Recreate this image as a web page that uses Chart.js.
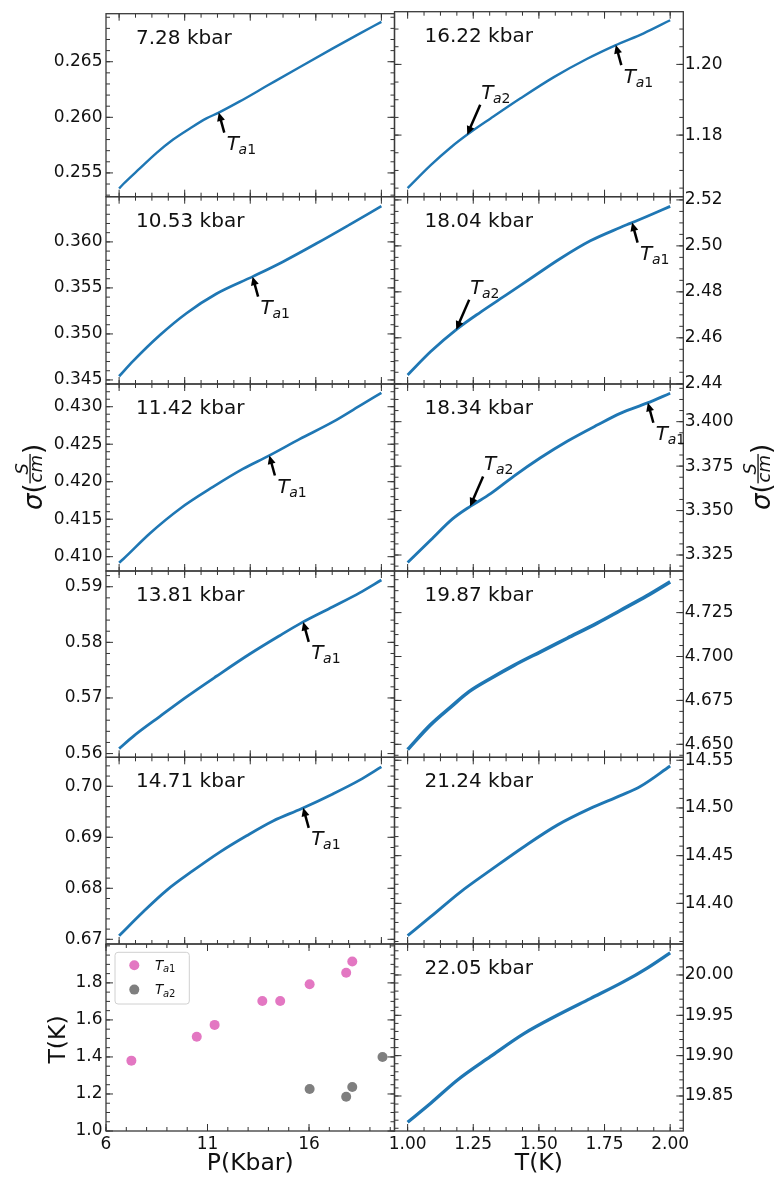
<!DOCTYPE html>
<html><head><meta charset="utf-8">
<script src="https://cdn.jsdelivr.net/npm/chart.js@4.4.1/dist/chart.umd.min.js"></script>
<style>
html,body{margin:0;padding:0;background:#fff;}
#wrap{position:relative;width:778px;height:1178px;overflow:hidden;background:#fff;}
#wrap canvas{position:absolute;left:0;top:0;}
</style></head><body><div id="wrap"></div>
<script>
// ---------------- data ----------------
const T_TICKS = [1.00, 1.25, 1.50, 1.75, 2.00];

const T_728 = [1.000, 1.016, 1.079, 1.143, 1.206, 1.270, 1.333, 1.378, 1.460, 1.562, 1.688, 1.815, 1.917, 2.000];
const S_728 = [0.2536, 0.2540, 0.2554, 0.2568, 0.2580, 0.2590, 0.2599, 0.2604, 0.26143, 0.26281, 0.26451, 0.26620, 0.26753, 0.26858];
const Y_728 = [0.255, 0.260, 0.265];

const T_1053 = [1.000, 1.054, 1.156, 1.257, 1.371, 1.511, 1.625, 1.752, 1.879, 2.000];
const S_1053 = [0.3454, 0.34707, 0.34988, 0.35225, 0.35436, 0.35625, 0.35785, 0.35982, 0.36188, 0.36388];
const Y_1053 = [0.345, 0.350, 0.355, 0.360];

const T_1142 = [1.000, 1.016, 1.117, 1.232, 1.358, 1.472, 1.568, 1.688, 1.815, 1.917, 2.000];
const S_1142 = [0.4092, 0.4097, 0.4131, 0.4164, 0.4193, 0.4217, 0.4234, 0.42567, 0.42797, 0.43011, 0.43184];
const Y_1142 = [0.410, 0.415, 0.420, 0.425, 0.430];

const T_1381 = [1.000, 1.054, 1.156, 1.257, 1.371, 1.498, 1.612, 1.695, 1.815, 1.917, 2.000];
const S_1381 = [0.5609, 0.5631, 0.5667, 0.5702, 0.5739, 0.5779, 0.5812, 0.5835, 0.5864, 0.5889, 0.5912];
const Y_1381 = [0.56, 0.57, 0.58, 0.59];

const T_1471 = [1.000, 1.092, 1.181, 1.283, 1.384, 1.486, 1.587, 1.695, 1.815, 1.917, 2.000];
const S_1471 = [0.6707, 0.6754, 0.6796, 0.6835, 0.6871, 0.6903, 0.6932, 0.6956, 0.6985, 0.7012, 0.7038];
const Y_1471 = [0.67, 0.68, 0.69, 0.70];

const T_1622 = [1.000, 1.088, 1.164, 1.234, 1.316, 1.430, 1.557, 1.684, 1.791, 1.899, 2.000];
const S_1622 = [1.1650, 1.1715, 1.1765, 1.1805, 1.1847, 1.1904, 1.1964, 1.2016, 1.2054, 1.2088, 1.2125];
const Y_1622 = [1.18, 1.20];

const T_1804 = [1.000, 1.088, 1.190, 1.278, 1.380, 1.481, 1.582, 1.696, 1.810, 1.848, 1.911, 2.000];
const S_1804 = [2.4438, 2.4540, 2.4640, 2.4712, 2.4790, 2.4868, 2.4945, 2.5022, 2.5080, 2.5098, 2.5128, 2.5172];
const Y_1804 = [2.44, 2.46, 2.48, 2.50, 2.52];

const T_1834 = [1.000, 1.088, 1.171, 1.240, 1.316, 1.405, 1.506, 1.608, 1.722, 1.810, 1.911, 2.000];
const S_1834 = [3.3208, 3.3334, 3.3453, 3.3525, 3.3595, 3.3694, 3.3797, 3.3890, 3.3981, 3.4047, 3.4104, 3.4160];
const Y_1834 = [3.325, 3.350, 3.375, 3.400];

const T_1987 = [1.000, 1.088, 1.164, 1.234, 1.316, 1.405, 1.506, 1.608, 1.722, 1.810, 1.911, 2.000];
const S_1987 = [4.6470, 4.6612, 4.6712, 4.6800, 4.6875, 4.6950, 4.7027, 4.7104, 4.7190, 4.7262, 4.7345, 4.7425];
const Y_1987 = [4.650, 4.675, 4.700, 4.725];

const T_2124 = [1.000, 1.088, 1.202, 1.316, 1.443, 1.570, 1.696, 1.810, 1.886, 2.000];
const S_2124 = [14.3663, 14.3860, 14.4121, 14.4348, 14.4594, 14.4820, 14.4995, 14.5130, 14.5225, 14.5440];
const Y_2124 = [14.40, 14.45, 14.50, 14.55];

const T_2205 = [1.000, 1.088, 1.190, 1.316, 1.443, 1.570, 1.696, 1.823, 1.911, 2.000];
const S_2205 = [19.8175, 19.8410, 19.8698, 19.8990, 19.9273, 19.9500, 19.9707, 19.9917, 20.0083, 20.0275];
const Y_2205 = [19.85, 19.90, 19.95, 20.00];

// transition temperatures vs pressure
const TA1_P = [7.25, 10.47, 11.35, 13.70, 14.58, 16.03, 17.83, 18.13];
const TA1_T = [1.38, 1.509, 1.573, 1.702, 1.702, 1.793, 1.855, 1.915];
const TA2_P = [16.03, 17.83, 18.13, 19.62];
const TA2_T = [1.227, 1.185, 1.238, 1.40];
const P_TICKS = [6, 11, 16];
const TK_TICKS = [1.0, 1.2, 1.4, 1.6, 1.8];

// ---------------- layout / style ----------------
const W = 778, H = 1178;
const ROWS = [9.3, 196.7, 384, 571, 757.3, 944, 1131];
const COLS = [106, 394.5, 683.3];
const FONT = '"DejaVu Sans", "Liberation Sans", sans-serif';
const BLUE = '#1f77b4', PINK = '#e377c2', GRAY = '#7f7f7f';
const INK = '#111';
Chart.defaults.font.family = FONT;

function curve(T, S, lw) {
  return [{ data: T.map((t, i) => ({ x: t, y: S[i] })), showLine: true, borderColor: BLUE,
    borderWidth: lw, pointRadius: 0, cubicInterpolationMode: 'monotone', fill: false }];
}
function interp(T, S, t) {
  for (let i = 0; i < T.length - 1; i++) {
    if (t >= T[i] && t <= T[i + 1]) return S[i] + (S[i + 1] - S[i]) * (t - T[i]) / (T[i + 1] - T[i]);
  }
  return t < T[0] ? S[0] : S[S.length - 1];
}
function minorVals(min, max, step) {
  const out = []; const k0 = Math.ceil(min / step - 1e-9), k1 = Math.floor(max / step + 1e-9);
  for (let k = k0; k <= k1; k++) out.push(k * step);
  return out;
}

const TX = { xmin: 0.95, xmax: 2.05, xt: T_TICKS, xdec: 2, xminor: 0.0625 };
const panels = [
  Object.assign({ col: 0, row: 0, label: '7.28 kbar', T: T_728, S: S_728, ymin: 0.25286, ymax: 0.26932, yt: Y_728, ydec: 3, yminor: 0.001, lw: 2.4, ann: [['1', TA1_T[0]]] }, TX),
  Object.assign({ col: 0, row: 1, label: '10.53 kbar', T: T_1053, S: S_1053, ymin: 0.34456, ymax: 0.36491, yt: Y_1053, ydec: 3, yminor: 0.001, lw: 2.7, ann: [['1', TA1_T[1]]] }, TX),
  Object.assign({ col: 0, row: 2, label: '11.42 kbar', T: T_1142, S: S_1142, ymin: 0.40809, ymax: 0.43303, yt: Y_1142, ydec: 3, yminor: 0.001, lw: 2.6, ann: [['1', TA1_T[2]]], sigma: true }, TX),
  Object.assign({ col: 0, row: 3, label: '13.81 kbar', T: T_1381, S: S_1381, ymin: 0.55933, ymax: 0.59283, yt: Y_1381, ydec: 2, yminor: 0.002, lw: 2.8, ann: [['1', TA1_T[3]]] }, TX),
  Object.assign({ col: 0, row: 4, label: '14.71 kbar', T: T_1471, S: S_1471, ymin: 0.66908, ymax: 0.70568, yt: Y_1471, ydec: 2, yminor: 0.002, lw: 2.8, ann: [['1', TA1_T[4]]] }, TX),
  { col: 0, row: 5, scatter: true, xmin: 6, xmax: 20.21, xt: P_TICKS, xdec: 0, xminor: 1,
    ymin: 1.0, ymax: 2.01, yt: TK_TICKS, ydec: 1, yminor: 0.05, xlabel: 'P(Kbar)', ylabel: 'T(K)' },
  Object.assign({ col: 1, row: 0, label: '16.22 kbar', T: T_1622, S: S_1622, ymin: 1.16257, ymax: 1.21491, yt: Y_1622, ydec: 2, yminor: 0.005, lw: 2.4, ann: [['1', TA1_T[5]], ['2', TA2_T[0]]] }, TX),
  Object.assign({ col: 1, row: 1, label: '18.04 kbar', T: T_1804, S: S_1804, ymin: 2.4399, ymax: 2.5214, yt: Y_1804, ydec: 2, yminor: 0.005, lw: 2.8, ann: [['1', TA1_T[6]], ['2', TA2_T[1]]] }, TX),
  Object.assign({ col: 1, row: 2, label: '18.34 kbar', T: T_1834, S: S_1834, ymin: 3.3160, ymax: 3.4212, yt: Y_1834, ydec: 3, yminor: 0.00625, lw: 2.9, ann: [['1', TA1_T[7]], ['2', TA2_T[2]]], sigma: true }, TX),
  Object.assign({ col: 1, row: 3, label: '19.87 kbar', T: T_1987, S: S_1987, ymin: 4.6426, ymax: 4.7487, yt: Y_1987, ydec: 3, yminor: 0.00625, lw: 3.6, ann: [] }, TX),
  Object.assign({ col: 1, row: 4, label: '21.24 kbar', T: T_2124, S: S_2124, ymin: 14.3574, ymax: 14.5531, yt: Y_2124, ydec: 2, yminor: 0.01, lw: 2.9, ann: [] }, TX),
  Object.assign({ col: 1, row: 5, label: '22.05 kbar', T: T_2205, S: S_2205, ymin: 19.8066, ymax: 20.0384, yt: Y_2205, ydec: 2, yminor: 0.01, lw: 3.3, ann: [], xlabel: 'T(K)' }, TX)
];

// ---------------- drawing helpers ----------------
function drawTa(ctx, x, y, sub, big, small, drop) {
  ctx.textAlign = 'left'; ctx.textBaseline = 'alphabetic'; ctx.fillStyle = INK;
  ctx.font = 'italic ' + big + 'px ' + FONT; ctx.fillText('T', x, y);
  let u = x + ctx.measureText('T').width - big * 0.02;
  ctx.font = 'italic ' + small + 'px ' + FONT; ctx.fillText('a', u, y + drop);
  u += ctx.measureText('a').width;
  ctx.font = small + 'px ' + FONT; ctx.fillText(sub, u, y + drop);
}
function drawArrow(ctx, x0, y0, x1, y1) {
  const ang = Math.atan2(y1 - y0, x1 - x0), c = Math.cos(ang), s = Math.sin(ang);
  const hl = 8.5, hw = 4;
  const bx = x1 - hl * c, by = y1 - hl * s;
  ctx.strokeStyle = '#000'; ctx.fillStyle = '#000'; ctx.lineWidth = 2.5; ctx.lineCap = 'butt';
  ctx.beginPath(); ctx.moveTo(x0, y0); ctx.lineTo(bx + c, by + s); ctx.stroke();
  ctx.beginPath(); ctx.moveTo(x1, y1); ctx.lineTo(bx + hw * s, by - hw * c); ctx.lineTo(bx - hw * s, by + hw * c); ctx.closePath(); ctx.fill();
}
function drawSigma(ctx, cx, cy) {
  ctx.save(); ctx.translate(cx, cy); ctx.rotate(-Math.PI / 2);
  const F = 26, f = 18, vb = 12.7; let u = -33;
  ctx.fillStyle = INK; ctx.textAlign = 'left'; ctx.textBaseline = 'alphabetic';
  ctx.font = 'italic ' + F + 'px ' + FONT; ctx.fillText('σ', u, vb); u += ctx.measureText('σ').width;
  ctx.font = F + 'px ' + FONT; ctx.fillText('(', u, vb); u += ctx.measureText('(').width;
  ctx.font = 'italic ' + f + 'px ' + FONT;
  const wS = ctx.measureText('S').width, wc = ctx.measureText('cm').width, fw = Math.max(wS, wc) + 2;
  ctx.fillText('S', u + (fw - wS) / 2, vb - 14);
  ctx.fillText('cm', u + (fw - wc) / 2, vb + 0.5);
  ctx.fillRect(u, vb - 12.3, fw, 1.3);
  u += fw;
  ctx.font = F + 'px ' + FONT; ctx.fillText(')', u, vb);
  ctx.restore();
}

function framePlugin(p) {
  return {
    id: 'frame',
    afterDraw(chart) {
      const ctx = chart.ctx, a = chart.chartArea, xs = chart.scales.x, ys = chart.scales.y;
      ctx.save();
      ctx.strokeStyle = '#333'; ctx.lineWidth = 1; ctx.beginPath();
      const tx = (v, len) => { const px = xs.getPixelForValue(v); if (px < a.left - 0.5 || px > a.right + 0.5) return;
        ctx.moveTo(px, a.bottom); ctx.lineTo(px, a.bottom - len); ctx.moveTo(px, a.top); ctx.lineTo(px, a.top + len); };
      const ty = (v, len) => { const py = ys.getPixelForValue(v); if (py < a.top - 0.5 || py > a.bottom + 0.5) return;
        ctx.moveTo(a.left, py); ctx.lineTo(a.left + len, py); ctx.moveTo(a.right, py); ctx.lineTo(a.right - len, py); };
      minorVals(p.xmin, p.xmax, p.xminor).forEach(v => tx(v, 4));
      p.xt.forEach(v => tx(v, 7));
      minorVals(p.ymin, p.ymax, p.yminor).forEach(v => ty(v, 4));
      p.yt.forEach(v => ty(v, 7));
      ctx.stroke();
      ctx.lineWidth = 1.3; ctx.strokeStyle = '#3a3a3a';
      ctx.strokeRect(a.left, a.top, a.right - a.left, a.bottom - a.top);

      if (p.label) {
        ctx.fillStyle = INK; ctx.font = '20px ' + FONT; ctx.textAlign = 'left'; ctx.textBaseline = 'alphabetic';
        ctx.fillText(p.label, a.left + 30, a.top + 30);
      }
      (p.ann || []).forEach(([sub, t]) => {
        const px = xs.getPixelForValue(t), py = ys.getPixelForValue(interp(p.T, p.S, t));
        if (sub === '1') {
          drawArrow(ctx, px + 5.5, py + 20, px, py);
          drawTa(ctx, px + 8, py + 37.5, '1', 20, 14, 4);
        } else {
          drawArrow(ctx, px + 13, py - 30, px, py);
          drawTa(ctx, px + 14, py - 36, '2', 20, 14, 4);
        }
      });
      if (p.scatter) {
        const lx = 115, ly = 952.3, lw = 74.3, lh = 51.7, r = 3;
        ctx.beginPath();
        ctx.moveTo(lx + r, ly); ctx.lineTo(lx + lw - r, ly); ctx.arcTo(lx + lw, ly, lx + lw, ly + r, r);
        ctx.lineTo(lx + lw, ly + lh - r); ctx.arcTo(lx + lw, ly + lh, lx + lw - r, ly + lh, r);
        ctx.lineTo(lx + r, ly + lh); ctx.arcTo(lx, ly + lh, lx, ly + lh - r, r);
        ctx.lineTo(lx, ly + r); ctx.arcTo(lx, ly, lx + r, ly, r); ctx.closePath();
        ctx.fillStyle = 'rgba(255,255,255,0.8)'; ctx.fill();
        ctx.strokeStyle = '#d0d0d0'; ctx.lineWidth = 1; ctx.stroke();
        [[PINK, '1', 965.3], [GRAY, '2', 989.6]].forEach(([col, sub, yy]) => {
          ctx.fillStyle = col; ctx.beginPath(); ctx.arc(134.3, yy, 5, 0, Math.PI * 2); ctx.fill();
          drawTa(ctx, 155, yy + 4.6, sub, 13.5, 10, 2.5);
        });
      }
      ctx.fillStyle = INK; ctx.font = '23.5px ' + FONT; ctx.textBaseline = 'alphabetic';
      if (p.xlabel) { ctx.textAlign = 'center'; ctx.fillText(p.xlabel, (a.left + a.right) / 2, 1170); }
      if (p.ylabel) {
        ctx.save(); ctx.translate(59, (a.top + a.bottom) / 2 + 2); ctx.rotate(-Math.PI / 2);
        ctx.textAlign = 'center'; ctx.textBaseline = 'middle'; ctx.fillText(p.ylabel, 0, 0); ctx.restore();
      }
      if (p.sigma) drawSigma(ctx, p.col === 0 ? 29 : 757, 477);
      ctx.restore();
    }
  };
}

function makePanel(p) {
  const cv = document.createElement('canvas');
  cv.width = W; cv.height = H; cv.style.width = W + 'px'; cv.style.height = H + 'px';
  document.getElementById('wrap').appendChild(cv);
  const L = COLS[p.col], R = COLS[p.col + 1], Tp = ROWS[p.row], B = ROWS[p.row + 1];
  const bottomRow = p.row === 5;
  const leftCol = p.col === 0;
  const yBox = leftCol ? L : W - R;
  const xBox = bottomRow ? H - B : 0;
  const datasets = p.scatter ? [
    { data: TA1_P.map((x, i) => ({ x, y: TA1_T[i] })), pointRadius: 5, backgroundColor: PINK, borderWidth: 0, pointBorderWidth: 0 },
    { data: TA2_P.map((x, i) => ({ x, y: TA2_T[i] })), pointRadius: 5, backgroundColor: GRAY, borderWidth: 0, pointBorderWidth: 0 }
  ] : curve(p.T, p.S, p.lw);
  const tickFont = { family: FONT, size: 17 };
  new Chart(cv, {
    type: 'scatter',
    data: { datasets },
    options: {
      responsive: false, animation: false, devicePixelRatio: 1, events: [],
      layout: { padding: { left: leftCol ? 0 : L, top: Tp, right: leftCol ? W - R : 0, bottom: bottomRow ? 0 : H - B } },
      plugins: { legend: { display: false }, tooltip: { enabled: false } },
      scales: {
        x: {
          type: 'linear', position: 'bottom', min: p.xmin, max: p.xmax,
          grid: { display: false, drawTicks: false, tickLength: 0 }, border: { display: false },
          ticks: { display: bottomRow, font: tickFont, color: INK, padding: 3, autoSkip: false, maxRotation: 0, minRotation: 0,
            callback: v => Number(v).toFixed(p.xdec) },
          afterBuildTicks: s => { s.ticks = p.xt.map(v => ({ value: v })); },
          afterFit: s => { s.height = xBox; }
        },
        y: {
          type: 'linear', position: leftCol ? 'left' : 'right', min: p.ymin, max: p.ymax,
          grid: { display: false, drawTicks: false, tickLength: 0 }, border: { display: false },
          ticks: { display: true, font: tickFont, color: INK, padding: leftCol ? 3.5 : 1.5, autoSkip: false,
            callback: v => Number(v).toFixed(p.ydec) },
          afterBuildTicks: s => { s.ticks = p.yt.map(v => ({ value: v })); },
          afterFit: s => { s.width = yBox; }
        }
      }
    },
    plugins: [framePlugin(p)]
  });
}
panels.forEach(makePanel);
</script></body></html>
